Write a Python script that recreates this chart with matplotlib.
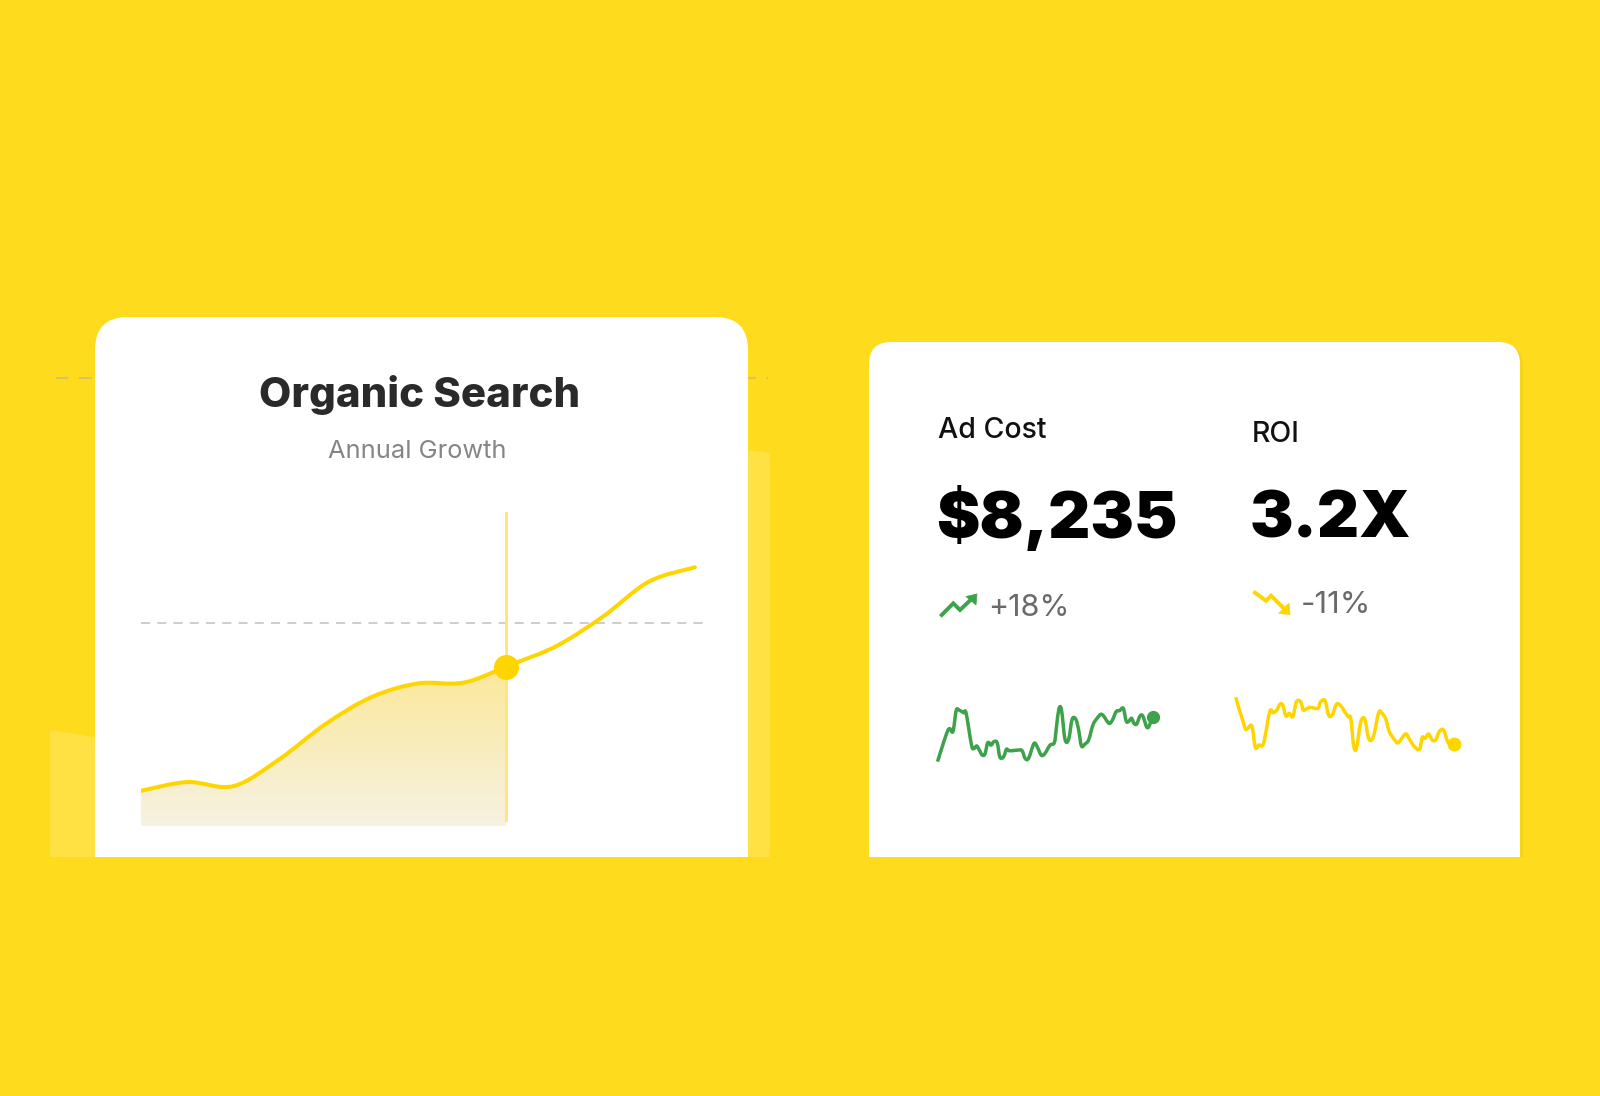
import numpy as np
import matplotlib
matplotlib.use("Agg")
import matplotlib.pyplot as plt
from matplotlib.path import Path
from matplotlib.patches import FancyBboxPatch, Rectangle, Polygon, PathPatch
from matplotlib.colors import to_rgba

# ---- data ----
months = [0, 1, 2, 3, 4, 5, 6, 7, 8, 9, 10, 11, 12]
organic = [11.2, 14.0, 12.7, 21.3, 32.5, 41.1, 45.4, 45.7, 51.3, 57.3, 66.6, 77.8, 82.4]
hover_x = 7.9
hover_y = 50.7
target_level = 64.7

ad_cost_t = [0, 4.9, 7.1, 8.6, 9.9, 12.0, 13.2, 15.7, 16.8, 18.1, 19.3, 20.6, 21.9, 23.2,
             24.7, 25.9, 27.5, 28.8, 30.5, 31.8, 32.9, 34.6, 37.1, 39.0, 40.4, 42.0, 44.5,
             46.1, 47.8, 49.4, 51.9, 53.9, 54.9, 56.0, 57.2, 58.8, 60.5, 62.1, 63.8, 65.1,
             66.4, 68.0, 69.7, 71.7, 73.6, 75.3, 76.6, 79.1, 80.7, 82.4, 84.0, 85.7, 87.0,
             88.1, 89.5, 90.6, 91.9, 93.4, 94.7, 96.4, 97.5, 99.3]
ad_cost_v = [3, 60.6, 57.6, 95.8, 97, 92, 91, 33, 27, 31.5, 24, 15, 17, 37.6,
             33, 39, 37.6, 11, 12, 25.5, 23, 23, 24, 23, 9, 9, 36,
             29, 15, 17, 33, 37.6, 66.7, 98.8, 97, 43.6, 43.6, 80, 80, 60.6,
             31.5, 35, 42.4, 69.7, 81.8, 89, 86, 72.7, 78.8, 94, 95.8, 100, 77,
             75.8, 81.8, 72.7, 71.5, 86, 86, 66.7, 66.7, 84.8]

roi_t = [0, 4.1, 5.2, 7.4, 9.0, 10.7, 12.8, 15.6, 17.2, 18.9, 20.2, 21.6, 23.0, 24.6,
         26.2, 27.9, 29.8, 31.1, 32.8, 34.4, 37.7, 39.0, 41.0, 42.6, 44.3, 46.2, 47.9,
         50.0, 51.6, 52.8, 54.1, 55.4, 57.4, 59.3, 61.0, 63.1, 65.6, 67.2, 68.9, 70.5,
         73.0, 74.6, 77.9, 79.5, 82.0, 84.4, 85.6, 86.9, 88.5, 90.2, 91.8, 93.4, 95.4,
         97.5, 100]
roi_v = [98.8, 43.8, 39.4, 45, 5, 9.4, 12.5, 71.9, 70, 75, 85.6, 84.4, 63.8, 68.8,
         62.5, 90.6, 90.6, 75, 78, 80, 78, 90.6, 92.5, 65.6, 65.6, 85.6, 84.4,
         71.9, 62.5, 59.4, 9.4, 3, 53, 57.5, 21.9, 23.8, 70, 68.8, 57.5, 34.4,
         18.8, 13.8, 30, 21.9, 6.3, 1.3, 23.8, 21.9, 30, 18.8, 18.8, 34.4, 37.5,
         13.8, 11.3]

title = "Organic Search"
subtitle = "Annual Growth"
kpi_labels = ["Ad Cost", "ROI"]
kpi_values = ["$8,235", "3.2X"]
kpi_changes = ["+18%", "-11%"]

# ---- style ----
W, H = 1600, 1096
BG = "#FFDB1D"
GOLD = "#FFD500"
GREEN = "#3DA24A"

fig = plt.figure(figsize=(W / 100, H / 100), dpi=100)
fig.patch.set_facecolor(BG)

# pixel-space canvas for cards and text
bg = fig.add_axes([0, 0, 1, 1])
bg.set_xlim(0, W)
bg.set_ylim(H, 0)
bg.axis("off")


def px_axes(x0, x1, y0, y1):
    # x0..x1, y0 (top) .. y1 (bottom) in pixels
    return fig.add_axes([x0 / W, 1 - y1 / H, (x1 - x0) / W, (y1 - y0) / H])


def smooth_path(xs, ys):
    # catmull-rom segments expressed as cubic beziers
    pts = np.column_stack([xs, ys]).astype(float)
    verts = [pts[0]]
    codes = [Path.MOVETO]
    n = len(pts)
    for i in range(n - 1):
        p0 = pts[max(i - 1, 0)]
        p1 = pts[i]
        p2 = pts[i + 1]
        p3 = pts[min(i + 2, n - 1)]
        verts += [p1 + (p2 - p0) / 6, p2 - (p3 - p1) / 6, p2]
        codes += [Path.CURVE4] * 3
    return Path(verts, codes)


# ghost chart behind left card
ghost = Polygon([(50, 730), (94, 737), (748, 450), (770, 453), (770, 857), (50, 857)],
                closed=True, facecolor="white", alpha=0.17, edgecolor="none", zorder=1)
bg.add_patch(ghost)
bg.plot([56, 768], [378, 378], color="#B8B090", lw=1.5, dashes=(6, 5), alpha=0.55, zorder=1)

# cards (bottom cut by yellow band)
bg.add_patch(FancyBboxPatch((95, 317), 653, 640, boxstyle="round,pad=0,rounding_size=33",
                            facecolor="white", edgecolor="none", zorder=2))
bg.add_patch(FancyBboxPatch((872, 344), 651, 620, boxstyle="round,pad=0,rounding_size=22",
                            facecolor="#F2CC10", edgecolor="none", zorder=2, alpha=0.6))
bg.add_patch(FancyBboxPatch((869, 342), 651, 620, boxstyle="round,pad=0,rounding_size=22",
                            facecolor="white", edgecolor="none", zorder=3))
bg.add_patch(Rectangle((0, 857), W, H - 857, facecolor=BG, edgecolor="none", zorder=4))

# titles
bg.text(420, 407, title, ha="center", va="baseline", fontsize=30.2, fontweight="heavy",
        family="Inter", color="#2A2A2A", zorder=5)
bg.text(417, 458, subtitle, ha="center", va="baseline", fontsize=18.3, fontweight="normal",
        family="Inter", color="#858585", zorder=5)

# KPI texts
for x, lab, val, ybase in [(938, kpi_labels[0], kpi_values[0], 438),
                           (1252, kpi_labels[1], kpi_values[1], 442)]:
    bg.text(x, ybase, lab, ha="left", va="baseline", fontsize=20.5, fontweight="medium",
            family="Inter", color="#111111", zorder=5)
    bg.text(x - 2, 538, val, ha="left", va="baseline", fontsize=47, fontweight="black",
            family="Inter", color="#000000", zorder=5)
bg.text(988, 616, kpi_changes[0], ha="left", va="baseline", fontsize=22, fontweight="normal",
        family="Inter", color="#6A6A6A", zorder=5)
bg.text(1301, 613, kpi_changes[1], ha="left", va="baseline", fontsize=22.5, fontweight="normal",
        family="Inter", color="#6A6A6A", zorder=5)

# trend icons
bg.plot([941.7, 953.3, 960, 971], [615, 603.3, 610, 599.5], color=GREEN, lw=2.8,
        solid_joinstyle="miter", zorder=5)
bg.add_patch(Polygon([(966, 596.5), (977, 594), (976, 605)], closed=True,
                     facecolor=GREEN, edgecolor=GREEN, lw=0.5, zorder=5))
bg.plot([1255, 1266, 1271, 1283.5], [592.7, 600.7, 595.7, 608], color=GOLD, lw=2.8,
        solid_joinstyle="miter", zorder=5)
bg.add_patch(Polygon([(1278.5, 613.5), (1290, 614.5), (1289, 603)], closed=True,
                     facecolor=GOLD, edgecolor=GOLD, lw=0.5, zorder=5))

# ---- main chart ----
ax = px_axes(141, 706, 512, 826)
ax.set_xlim(0, 12.24)
ax.set_ylim(0, 100)
ax.axis("off")
ax.patch.set_alpha(0)

curve = smooth_path(months, organic)
# area under curve up to the hover point, gradient filled
area = Path(list(curve.vertices) + [(months[-1], 0), (months[0], 0), (months[0], organic[0])],
            list(curve.codes) + [Path.LINETO, Path.LINETO, Path.CLOSEPOLY])
top_c = np.array(to_rgba("#FCE796"))
bot_c = np.array(to_rgba("#F6F2E2"))
grad = np.linspace(0, 1, 256)[:, None, None]
img = top_c * (1 - grad) + bot_c * grad
im = ax.imshow(img, extent=(months[0], hover_x, 0, hover_y + 2), origin="upper",
               aspect="auto", interpolation="bilinear", zorder=1)
im.set_clip_path(PathPatch(area, transform=ax.transData, facecolor="none", edgecolor="none"))

ax.axhline(target_level, xmin=0, xmax=1, color="#C9C9C9", lw=1.3, dashes=(5, 4), zorder=2)
ax.plot([hover_x, hover_x], [1.9, 100], color="#FFE57A", lw=2, zorder=3)
ax.add_patch(PathPatch(curve, facecolor="none", edgecolor=GOLD, lw=2.9, capstyle="round",
                       zorder=4))
ax.plot([hover_x], [hover_y], "o", color=GOLD, ms=17, mec=GOLD, zorder=5, clip_on=False)

# ---- sparklines ----
sp1 = px_axes(937.5, 1154.3, 708.3, 763.3)
sp1.set_xlim(0, 100)
sp1.set_ylim(0, 100)
sp1.axis("off")
sp1.add_patch(PathPatch(smooth_path(ad_cost_t, ad_cost_v), facecolor="none", edgecolor=GREEN,
                        lw=2.5, joinstyle="round", clip_on=False))
sp1.plot([ad_cost_t[-1]], [ad_cost_v[-1]], "o", color=GREEN, ms=8.5, clip_on=False)

sp2 = px_axes(1235.7, 1453.6, 696.7, 750)
sp2.set_xlim(0, 100)
sp2.set_ylim(0, 100)
sp2.axis("off")
sp2.add_patch(PathPatch(smooth_path(roi_t, roi_v), facecolor="none", edgecolor=GOLD,
                        lw=2.5, joinstyle="round", clip_on=False))
sp2.plot([roi_t[-1]], [roi_v[-1]], "o", color=GOLD, ms=9, clip_on=False)

fig.savefig("out.png", dpi=100, facecolor=BG)
